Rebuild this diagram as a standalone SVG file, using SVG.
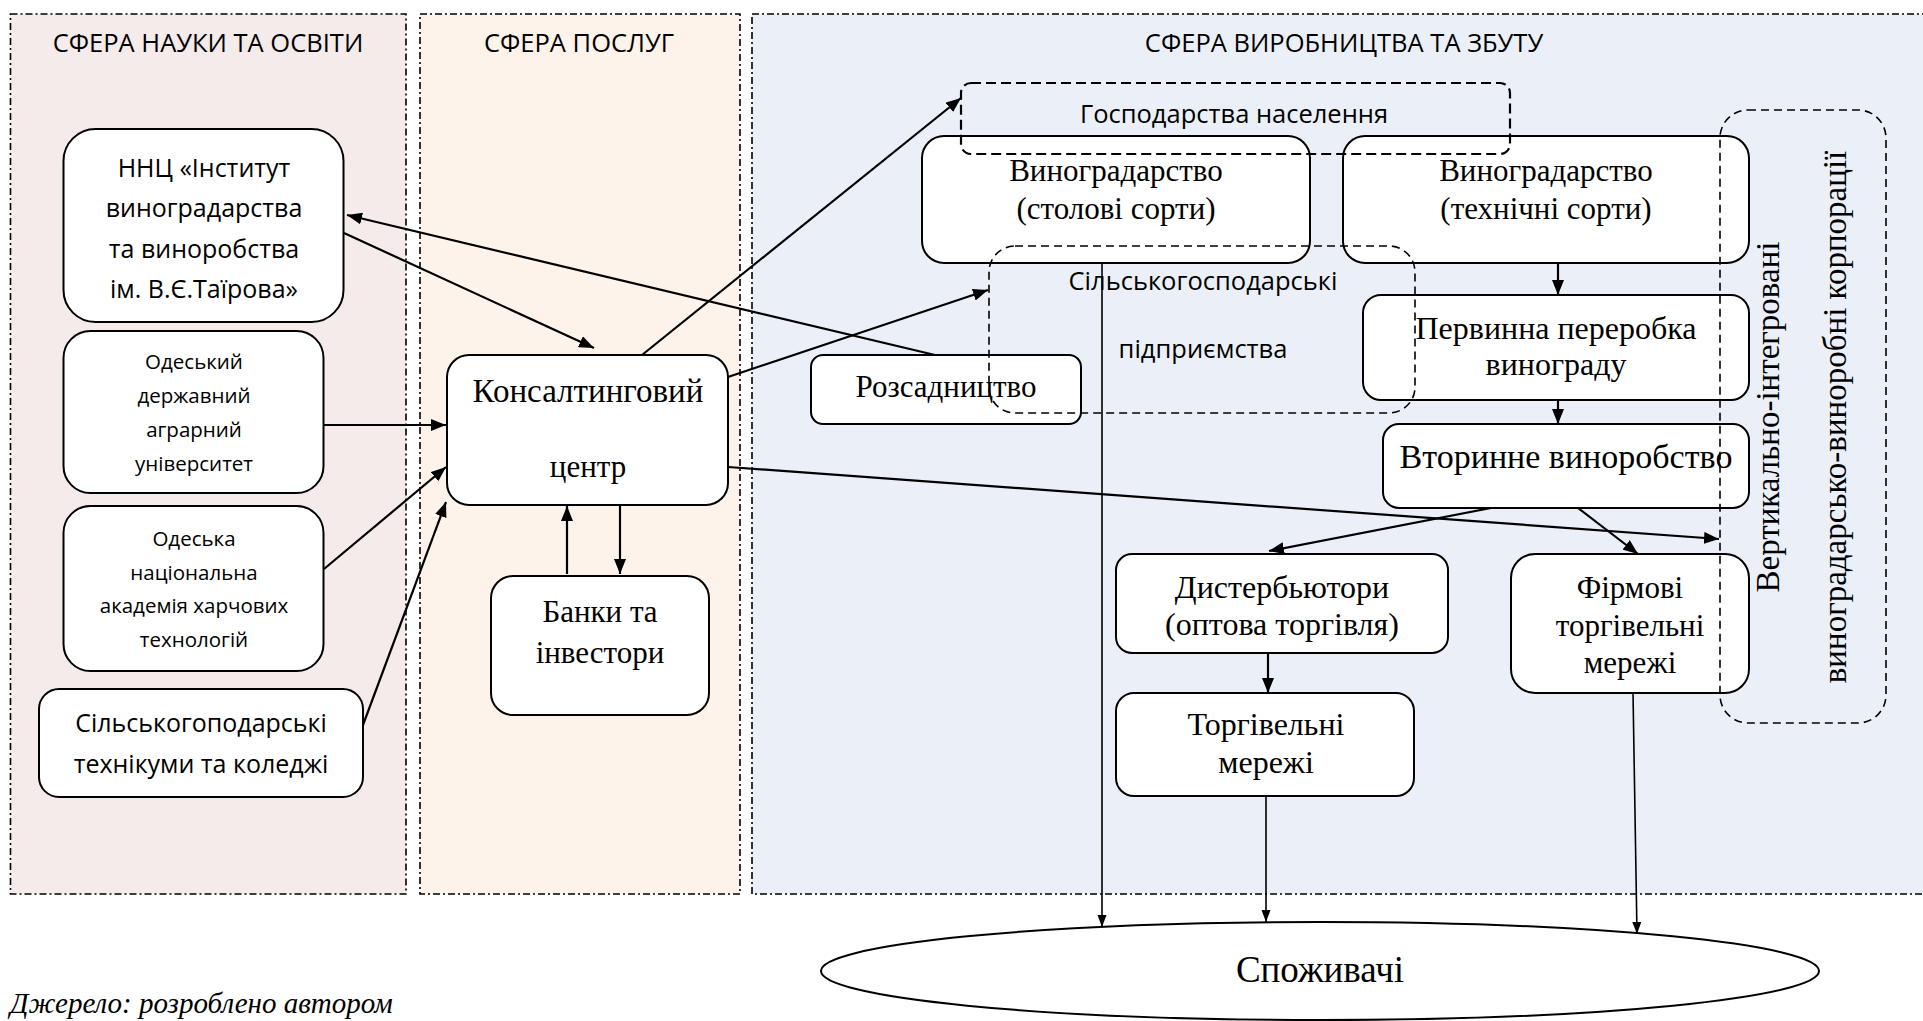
<svg xmlns="http://www.w3.org/2000/svg" width="1923" height="1021" viewBox="0 0 1923 1021">
<style>
.panel{stroke:#000;stroke-width:1.6;stroke-dasharray:7 3 2 3;}
.box{fill:#fff;stroke:#000;stroke-width:2;}
.dbox{fill:none;stroke:#000;stroke-width:1.6;stroke-dasharray:8 5;}
.sans{font-family:"Open Sans","Noto Sans","DejaVu Sans",sans-serif;fill:#000;text-anchor:middle;}
.serif{font-family:"Liberation Serif","Times New Roman",serif;fill:#000;text-anchor:middle;}
.ttl{font-size:25.5px;}
.s25{font-size:25px;}
.s20{font-size:20.5px;}
.s23{font-size:25.5px;}
.t31{font-size:31px;}
.t32{font-size:32px;}
.t33{font-size:33px;}
.conn line{stroke:#000;stroke-width:2.2;fill:none;}
.conn line.thin{stroke-width:1.6;}
</style>
<defs>
<marker id="ah" markerUnits="userSpaceOnUse" markerWidth="16" markerHeight="12" refX="15" refY="6" orient="auto">
<path d="M0,0 L15,6 L0,12 z" fill="#000"/>
</marker>
<marker id="ahs" markerUnits="userSpaceOnUse" markerWidth="12" markerHeight="10" refX="12" refY="4.5" orient="auto">
<path d="M0,0 L12,4.5 L0,9 z" fill="#000"/>
</marker>
</defs>
<rect width="1923" height="1021" fill="#fff"/>
<g id="panels">
<g id="panel-science">
<rect class="panel" x="10.5" y="14" width="395.5" height="880" fill="#F5EBEA"/>
<text class="sans ttl" x="208" y="52">СФЕРА НАУКИ ТА ОСВІТИ</text>
</g>
<g id="panel-services">
<rect class="panel" x="420" y="14" width="320" height="880" fill="#FDF3EA"/>
<text class="sans ttl" x="579" y="52">СФЕРА ПОСЛУГ</text>
</g>
<g id="panel-production">
<rect class="panel" x="752" y="14" width="1180" height="880" fill="#EBF0F8"/>
<text class="sans ttl" x="1344" y="52">СФЕРА ВИРОБНИЦТВА ТА ЗБУТУ</text>
</g>
</g>
<g id="node-nnc">
<rect class="box" x="63.5" y="129" width="280" height="193" rx="32"/>
<text class="sans s25" x="204" y="177">ННЦ «Інститут</text>
<text class="sans s25" x="204" y="217">виноградарства</text>
<text class="sans s25" x="204" y="258">та виноробства</text>
<text class="sans s25" x="204" y="298">ім. В.Є.Таїрова»</text>
</g>
<g id="node-oday">
<rect class="box" x="63.5" y="331" width="260" height="162" rx="27"/>
<text class="sans s20" x="194" y="369">Одеський</text>
<text class="sans s20" x="194" y="403">державний</text>
<text class="sans s20" x="194" y="437">аграрний</text>
<text class="sans s20" x="194" y="471">університет</text>
</g>
<g id="node-onaft">
<rect class="box" x="63.5" y="506" width="260" height="165" rx="27"/>
<text class="sans s20" x="194" y="546">Одеська</text>
<text class="sans s20" x="194" y="580">національна</text>
<text class="sans s20" x="194" y="613">академія харчових</text>
<text class="sans s20" x="194" y="647">технологій</text>
</g>
<g id="node-colleges">
<rect class="box" x="39" y="689" width="324" height="108" rx="20"/>
<text class="sans s25" x="201" y="732">Сільськогоподарські</text>
<text class="sans s25" x="201" y="773">технікуми та коледжі</text>
</g>
<g id="node-consulting">
<rect class="box" x="447" y="355" width="281" height="150" rx="22"/>
<text class="serif t33" x="588" y="402">Консалтинговий</text>
<text class="serif t31" x="588" y="477">центр</text>
</g>
<g id="node-banks">
<rect class="box" x="491" y="576" width="218" height="139" rx="22"/>
<text class="serif t31" x="600" y="622">Банки та</text>
<text class="serif t31" x="600" y="663">інвестори</text>
</g>
<g id="node-table">
<rect class="box" x="922" y="136" width="388" height="127" rx="22"/>
<text class="serif t31" x="1116" y="181">Виноградарство</text>
<text class="serif t31" x="1116" y="219">(столові сорти)</text>
</g>
<g id="node-tech">
<rect class="box" x="1343" y="136" width="406" height="127" rx="22"/>
<text class="serif t31" x="1546" y="181">Виноградарство</text>
<text class="serif t31" x="1546" y="219">(технічні сорти)</text>
</g>
<g id="node-nursery">
<rect class="box" x="811" y="355" width="270" height="69" rx="12"/>
<text class="serif t31" x="946" y="397">Розсадництво</text>
</g>
<g id="node-primary">
<rect class="box" x="1363" y="295" width="386" height="105" rx="18"/>
<text class="serif t32" x="1556" y="339">Первинна переробка</text>
<text class="serif t32" x="1556" y="375">винограду</text>
</g>
<g id="node-secondary">
<rect class="box" x="1383" y="424" width="366" height="84" rx="16"/>
<text class="serif" x="1566" y="468" style="font-size:34px">Вторинне виноробство</text>
</g>
<g id="node-distrib">
<rect class="box" x="1116" y="554" width="332" height="99" rx="16"/>
<text class="serif t32" x="1282" y="598">Дистербьютори</text>
<text class="serif t32" x="1282" y="635">(оптова торгівля)</text>
</g>
<g id="node-retail">
<rect class="box" x="1116" y="693" width="298" height="103" rx="18"/>
<text class="serif t32" x="1266" y="735">Торгівельні</text>
<text class="serif t32" x="1266" y="773">мережі</text>
</g>
<g id="node-brand">
<rect class="box" x="1511" y="554" width="238" height="139" rx="24"/>
<text class="serif t31" x="1630" y="598">Фірмові</text>
<text class="serif t31" x="1630" y="636">торгівельні</text>
<text class="serif t31" x="1630" y="673">мережі</text>
</g>
<g id="node-households">
<rect class="dbox" x="961" y="83" width="549" height="71" rx="10" style="stroke-width:2.2;stroke-dasharray:10 5"/>
<text class="sans s23" x="1234" y="123">Господарства населення</text>
</g>
<g id="node-agrienterprises">
<rect class="dbox" x="989" y="246" width="426" height="167" rx="26"/>
<text class="sans s23" x="1203" y="290">Сільськогосподарські</text>
<text class="sans s23" x="1203" y="358">підприємства</text>
</g>
<g id="node-corporations">
<rect class="dbox" x="1720" y="110" width="166" height="613" rx="28"/>
<text class="serif t33" transform="translate(1779,417) rotate(-90)">Вертикально-інтегровані</text>
<text class="serif t33" transform="translate(1846,417) rotate(-90)">виноградарсько-виноробні корпорації</text>
</g>
<g id="node-consumers">
<ellipse cx="1320" cy="971" rx="499" ry="49" fill="#fff" stroke="#000" stroke-width="2"/>
<text class="serif" x="1320" y="982" style="font-size:37px">Споживачі</text>
</g>
<g id="connectors" class="conn">
<line x1="344" y1="233" x2="594" y2="348" marker-end="url(#ah)"/>
<line x1="935" y1="355" x2="347" y2="215" marker-end="url(#ah)"/>
<line x1="324" y1="425" x2="446" y2="425" marker-end="url(#ah)"/>
<line x1="324" y1="569" x2="446" y2="467" marker-end="url(#ah)"/>
<line x1="363" y1="725" x2="446" y2="502" marker-end="url(#ah)"/>
<line x1="620" y1="506" x2="620" y2="574" marker-end="url(#ah)"/>
<line x1="567" y1="574" x2="567" y2="506" marker-end="url(#ah)"/>
<line x1="642" y1="355" x2="961" y2="98" marker-end="url(#ah)"/>
<line x1="728" y1="377" x2="988" y2="290" marker-end="url(#ah)"/>
<line x1="728" y1="467" x2="1719" y2="539" marker-end="url(#ah)"/>
<line x1="1558" y1="263" x2="1558" y2="295" marker-end="url(#ah)"/>
<line x1="1558" y1="400" x2="1558" y2="424" marker-end="url(#ah)"/>
<line x1="1491" y1="508" x2="1269" y2="551" marker-end="url(#ah)"/>
<line x1="1578" y1="508" x2="1638" y2="554" marker-end="url(#ah)"/>
<line x1="1268" y1="653" x2="1268" y2="693" marker-end="url(#ah)"/>
<line class="thin" x1="1102" y1="263" x2="1102" y2="927" marker-end="url(#ahs)"/>
<line class="thin" x1="1266" y1="796" x2="1266" y2="922" marker-end="url(#ahs)"/>
<line class="thin" x1="1633" y1="693" x2="1637" y2="934" marker-end="url(#ahs)"/>
</g>
<text x="10" y="1013" style="font-family:'Liberation Serif',serif;font-style:italic;font-size:29px;fill:#000">Джерело: розроблено автором</text>
</svg>
